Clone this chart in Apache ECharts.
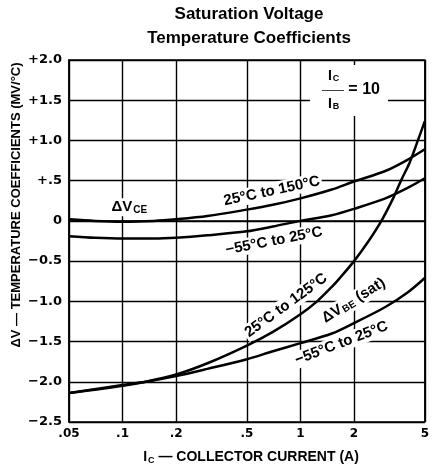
<!DOCTYPE html>
<html>
<head>
<meta charset="utf-8">
<script src="https://cdn.jsdelivr.net/npm/echarts@6/dist/echarts.min.js"></script>
<style>
  html, body { margin: 0; padding: 0; background: #fff; }
  #chart { width: 432px; height: 468px; }
</style>
</head>
<body>
<div id="chart"></div>
<script>
// x ticks (collector current, A) and their printed labels
const xTicks = [0.05, 0.1, 0.2, 0.5, 1, 2, 5]
const xTickLabels = ['.05', '.1', '.2', '.5', '1', '2', '5']
// y ticks (mV/°C)
const yTicks = [-2.5, -2.0, -1.5, -1.0, -0.5, 0, 0.5, 1.0, 1.5, 2.0]
const yTickLabels = ['\u22122.5', '\u22122.0', '\u22121.5', '\u22121.0', '\u22120.5', '0', '+.5', '+1.0', '+1.5', '+2.0']

// ΔVCE curves
const vceCurrent = [0.05, 0.07, 0.1, 0.15, 0.2, 0.3, 0.5, 0.7, 1, 1.5, 2, 3, 4, 5]
const vce25to150 = [0.02, 0.0, -0.01, 0.0, 0.02, 0.06, 0.14, 0.2, 0.28, 0.39, 0.49, 0.62, 0.76, 0.89]
const vceMinus55to25 = [-0.19, -0.21, -0.22, -0.22, -0.21, -0.18, -0.13, -0.07, 0.0, 0.07, 0.15, 0.28, 0.41, 0.53]

// ΔVBE(sat) curves
const vbeHotCurrent = [0.05, 0.07, 0.1, 0.135, 0.2, 0.3, 0.5, 0.7, 1, 1.24, 1.5, 1.65, 2, 2.4, 2.85, 3.3, 3.67, 4.1, 4.57, 5]
const vbe25to125 = [-2.14, -2.1, -2.05, -2.0, -1.91, -1.77, -1.55, -1.38, -1.16, -1.0, -0.82, -0.72, -0.5, -0.26, 0, 0.27, 0.5, 0.72, 1.0, 1.24]
const vbeColdCurrent = [0.05, 0.1, 0.135, 0.2, 0.3, 0.5, 0.7, 1, 1.5, 2, 3, 4, 5]
const vbeMinus55to25 = [-2.14, -2.04, -2.0, -1.93, -1.84, -1.72, -1.62, -1.52, -1.4, -1.27, -1.07, -0.89, -0.71]

// curve labels: [current, value, text, rotation]
const curveLabels = [
  [0.109, 0.17, '{d|\u0394V}{sub|CE}', 0],
  [0.69, 0.37, '25°C to 150°C', 12],
  [0.71, -0.25, '\u221255°C to 25°C', 11],
  [0.83, -1.05, '25°C to 125°C', 36],
  [1.99, -0.99, '{d|\u0394V}{sub|BE}{d| (sat)}', 32],
  [1.7, -1.52, '\u221255°C to 25°C', 21]
]
// left edge / middle of the IC/IB = 10 note
const ratioLabelAt = [1.13, 1.62]

const font = 'Liberation Sans'
const tickFont = 'DejaVu Sans'

function pairs(xs, ys) {
  return xs.map((x, i) => [x, ys[i]])
}

function curve(name, xs, ys) {
  return {
    name,
    type: 'line',
    data: pairs(xs, ys),
    showSymbol: false,
    smooth: 0.3,
    z: 5,
    lineStyle: { color: '#000', width: 2.5 },
    silent: true
  }
}

const chart = echarts.init(document.getElementById('chart'), null, { renderer: 'canvas' })

const richText = {
  d: { fontFamily: font, fontWeight: 'bold', fontSize: 15, color: '#000' },
  sub: { fontFamily: font, fontWeight: 'bold', fontSize: 10, color: '#000', verticalAlign: 'bottom', padding: [6, 0, 0, 1] }
}

const option = {
  animation: false,
  backgroundColor: '#fff',
  title: {
    text: 'Saturation Voltage\nTemperature Coefficients',
    left: 249,
    top: 2,
    padding: 0,
    textAlign: 'center',
    textStyle: { fontFamily: font, fontWeight: 'bold', fontSize: 17, lineHeight: 24, color: '#000' }
  },
  grid: {
    left: 69, right: 2, top: 60, bottom: 46,
    show: true, borderColor: '#000', borderWidth: 1.5
  },
  xAxis: {
    type: 'log',
    logBase: 10,
    min: 0.05,
    max: 5,
    axisLine: { show: true, lineStyle: { color: '#000', width: 1.5 } },
    axisTick: { show: false, customValues: xTicks },
    splitLine: { show: true, lineStyle: { color: '#000', width: 1.4 } },
    axisLabel: {
      customValues: xTicks,
      margin: 6,
      fontFamily: tickFont, fontWeight: 'bold', fontSize: 12, color: '#000',
      formatter: (v) => {
        const i = xTicks.findIndex(t => Math.abs(t - v) < 1e-6)
        return i >= 0 ? xTickLabels[i] : ''
      }
    }
  },
  yAxis: {
    type: 'value',
    min: -2.5,
    max: 2.0,
    interval: 0.5,
    axisLine: { show: true, lineStyle: { color: '#000', width: 1.5 } },
    axisTick: { show: false },
    splitLine: { show: true, lineStyle: { color: '#000', width: 1.4 } },
    axisLabel: {
      margin: 7,
      fontFamily: tickFont, fontWeight: 'bold', fontSize: 13, color: '#000',
      formatter: (v) => {
        const i = yTicks.findIndex(t => Math.abs(t - v) < 1e-6)
        return i >= 0 ? yTickLabels[i] : ''
      }
    }
  },
  graphic: [
    {
      type: 'text',
      x: 16, y: 205,
      rotation: Math.PI / 2,
      style: {
        text: '\u0394V \u2014 TEMPERATURE COEFFICIENTS (MV/°C)',
        fontFamily: font, fontWeight: 'bold', fontSize: 13, fill: '#000',
        align: 'center', verticalAlign: 'middle'
      }
    },
    {
      type: 'text',
      x: 251, y: 457,
      style: {
        text: '{i|I}{s|C}{t| \u2014 COLLECTOR CURRENT (A)}',
        align: 'center', verticalAlign: 'middle',
        rich: {
          i: { fontFamily: font, fontWeight: 'bold', fontSize: 14, fill: '#000' },
          s: { fontFamily: font, fontWeight: 'bold', fontSize: 9, fill: '#000', padding: [7, 0, 0, 1] },
          t: { fontFamily: font, fontWeight: 'bold', fontSize: 14, fill: '#000' }
        }
      }
    }
  ],
  series: [
    curve('ΔVCE 25°C to 150°C', vceCurrent, vce25to150),
    curve('ΔVCE −55°C to 25°C', vceCurrent, vceMinus55to25),
    curve('ΔVBE 25°C to 125°C', vbeHotCurrent, vbe25to125),
    curve('ΔVBE −55°C to 25°C', vbeColdCurrent, vbeMinus55to25),
    {
      // labels sit above the grid but under the curves
      name: 'labels',
      type: 'line',
      data: [],
      z: 2,
      silent: true,
      markPoint: {
        symbol: 'circle',
        symbolSize: 0,
        silent: true,
        animation: false,
        label: {
          show: true,
          position: 'inside',
          fontFamily: font, fontWeight: 'bold', fontSize: 15, color: '#000',
          backgroundColor: '#fff',
          padding: [1, 2]
        },
        data: curveLabels.map(l => ({
          coord: [l[0], l[1]],
          label: { formatter: l[2], rotate: l[3], rich: richText }
        })).concat([{
          coord: ratioLabelAt,
          label: {
            formatter: '{n|I}{sub|C}\n{bar|\u2014\u2014}{eq| = 10}\n{n|I}{sub|B}',
            backgroundColor: '#fff',
            padding: [4, 8, 5, 12],
            align: 'left',
            verticalAlign: 'middle',
            rich: {
              n: { fontFamily: font, fontWeight: 'bold', fontSize: 14, color: '#000', padding: [0, 0, 0, 6], lineHeight: 14 },
              sub: { fontFamily: font, fontWeight: 'bold', fontSize: 9, color: '#000', padding: [5, 0, 0, 1], lineHeight: 14 },
              bar: { fontFamily: font, fontWeight: 'normal', fontSize: 11, color: '#000', lineHeight: 14 },
              eq: { fontFamily: font, fontWeight: 'bold', fontSize: 16, color: '#000', lineHeight: 14 }
            }
          }
        }])
      }
    }
  ]
}

chart.setOption(option)
</script>
</body>
</html>
